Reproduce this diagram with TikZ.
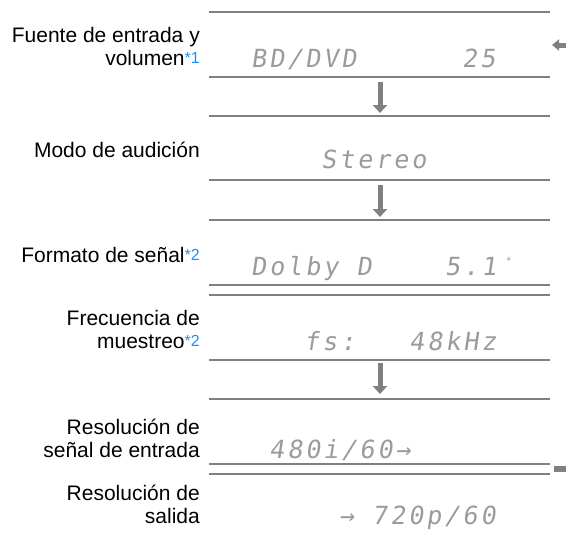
\documentclass[tikz,border=0pt]{standalone}
\usepackage{fontspec}
\setmainfont{Liberation Sans}
\newfontfamily\lcdfont[LetterSpace=12, FakeSlant=0.15]{DejaVu Sans Mono}
\usetikzlibrary{arrows.meta}
\definecolor{notablue}{RGB}{30,140,255}
\definecolor{rulegray}{RGB}{128,128,128}
\definecolor{lcdgray}{RGB}{155,155,155}
\newcommand\nota[1]{\raisebox{1.5pt}{\color{notablue}\fontsize{16}{16}\selectfont #1}}

\begin{document}
\begin{tikzpicture}[x=1pt, y=-1pt,
    lbl/.style={anchor=base east, align=right, font=\fontsize{21}{23}\selectfont, inner sep=0pt},
    lcd/.style={anchor=base west, text=lcdgray, font=\lcdfont\fontsize{25}{25}\selectfont, inner sep=0pt},
    rule/.style={rulegray, line width=1.8pt},
    down/.style={rulegray, line width=5pt, -{Triangle[length=8pt, width=14pt]}}]
        \useasboundingbox (0,0) rectangle (566,536);
        % rules
        \draw[rule] (209,12) -- (550,12);
        \draw[rule] (209,77) -- (550,77);
        \draw[rule] (209,116) -- (550,116);
        \draw[rule] (209,180) -- (550,180);
        \draw[rule] (209,220) -- (550,220);
        \draw[rule] (209,285) -- (550,285);
        \draw[rule] (209,295) -- (550,295);
        \draw[rule] (209,360) -- (550,360);
        \draw[rule] (209,399) -- (550,399);
        \draw[rule] (209,464) -- (550,464);
        \draw[rule] (209,474) -- (550,474);
        % arrows
        \draw[down] (380,82) -- (380,113);
        \draw[down] (380,185) -- (380,217);
        \draw[down] (380,363) -- (380,394);
        \draw[rulegray, line width=5pt, -{Triangle[length=7pt, width=11pt]}] (566,45) -- (552,45);
        \fill[rulegray] (554,466) rectangle (566,472);
        % labels (base = last line)
        \node[lbl] (fuente) at (200,65) {Fuente de entrada y\\volumen\nota{*1}};
        \node[lbl] (modo) at (200,157) {Modo de audición};
        \node[lbl] (formato) at (200,262) {Formato de señal\nota{*2}};
        \node[lbl] (frec) at (200,348) {Frecuencia de\\muestreo\nota{*2}};
        \node[lbl] (resin) at (200,457) {Resolución de\\señal de entrada};
        \node[lbl] (resout) at (200,523) {Resolución de\\salida};
        % display
        \node[lcd] (fuenteA) at (251,67) {BD/DVD};
        \node[lcd] (fuenteB) at (462,67) {25};
        \node[lcd] (modoA) at (321,168) {Stereo};
        \node[lcd] (formatoA) at (251,275) {Dolby D};
        \node[lcd] (formatoB) at (445,275) {5.1};
        \node[lcd, font=\lcdfont\fontsize{10}{10}\selectfont] (formatoC) at (505,264) {*};
        \node[lcd] (frecA) at (304,350) {fs:};
        \node[lcd] (frecB) at (409,350) {48kHz};
        \node[lcd] (resinA) at (269,458) {480i/60→};
        \node[lcd] (resoutA) at (339,524) {→};
        \node[lcd] (resoutB) at (372,524) {720p/60};
    \end{tikzpicture}
\end{document}
